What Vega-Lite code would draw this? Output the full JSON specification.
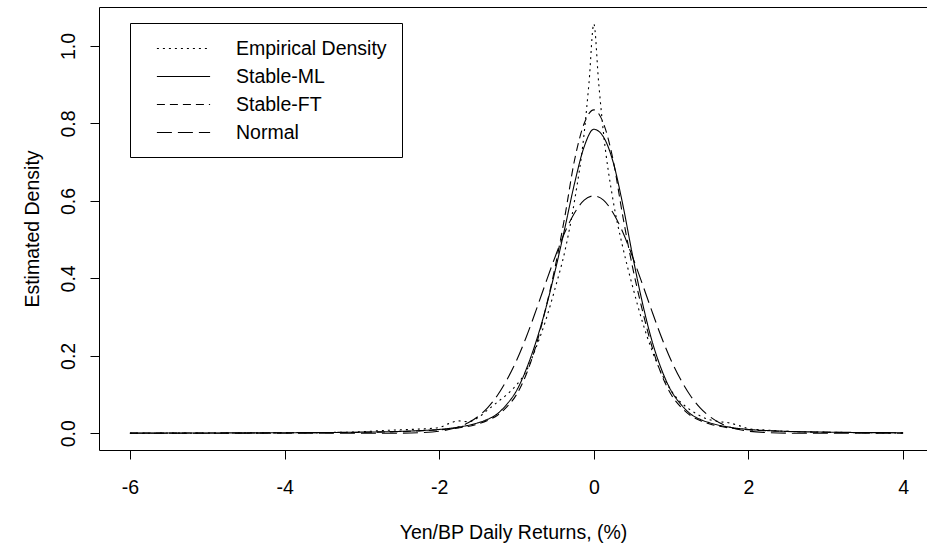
{
  "$schema": "https://vega.github.io/schema/vega-lite/v6.json",
  "autosize": "none",
  "padding": {"left": 99, "top": 7, "right": 0, "bottom": 99},
  "width": 828,
  "height": 443,
  "config": {
    "view": {"stroke": null},
    "font": "Liberation Sans",
    "axis": {"grid": false, "domainColor": "black", "tickColor": "black", "labelColor": "black", "titleColor": "black", "labelFont": "Liberation Sans", "titleFont": "Liberation Sans", "labelFontSize": 19.5, "titleFontSize": 19.5, "titleFontWeight": "normal", "tickSize": 9, "domainWidth": 1, "tickWidth": 1}
  },
  "data": {"values": [
    {"x": -6, "d": 0.0003, "s": "Empirical Density"},
    {"x": -5, "d": 0.0005, "s": "Empirical Density"},
    {"x": -4.5, "d": 0.001, "s": "Empirical Density"},
    {"x": -4, "d": 0.0015, "s": "Empirical Density"},
    {"x": -3.5, "d": 0.002, "s": "Empirical Density"},
    {"x": -3, "d": 0.004, "s": "Empirical Density"},
    {"x": -2.75, "d": 0.007, "s": "Empirical Density"},
    {"x": -2.5, "d": 0.009, "s": "Empirical Density"},
    {"x": -2.25, "d": 0.011, "s": "Empirical Density"},
    {"x": -2, "d": 0.015, "s": "Empirical Density"},
    {"x": -1.875, "d": 0.025, "s": "Empirical Density"},
    {"x": -1.75, "d": 0.032, "s": "Empirical Density"},
    {"x": -1.625, "d": 0.03, "s": "Empirical Density"},
    {"x": -1.5, "d": 0.04, "s": "Empirical Density"},
    {"x": -1.375, "d": 0.06, "s": "Empirical Density"},
    {"x": -1.25, "d": 0.08, "s": "Empirical Density"},
    {"x": -1.125, "d": 0.1, "s": "Empirical Density"},
    {"x": -1, "d": 0.125, "s": "Empirical Density"},
    {"x": -0.875, "d": 0.16, "s": "Empirical Density"},
    {"x": -0.75, "d": 0.22, "s": "Empirical Density"},
    {"x": -0.625, "d": 0.29, "s": "Empirical Density"},
    {"x": -0.5, "d": 0.375, "s": "Empirical Density"},
    {"x": -0.375, "d": 0.47, "s": "Empirical Density"},
    {"x": -0.25, "d": 0.6, "s": "Empirical Density"},
    {"x": -0.125, "d": 0.775, "s": "Empirical Density"},
    {"x": -0.0625, "d": 0.905, "s": "Empirical Density"},
    {"x": 0, "d": 1.057, "s": "Empirical Density"},
    {"x": 0.0625, "d": 0.905, "s": "Empirical Density"},
    {"x": 0.125, "d": 0.775, "s": "Empirical Density"},
    {"x": 0.25, "d": 0.6, "s": "Empirical Density"},
    {"x": 0.375, "d": 0.48, "s": "Empirical Density"},
    {"x": 0.5, "d": 0.38, "s": "Empirical Density"},
    {"x": 0.625, "d": 0.29, "s": "Empirical Density"},
    {"x": 0.75, "d": 0.215, "s": "Empirical Density"},
    {"x": 0.875, "d": 0.155, "s": "Empirical Density"},
    {"x": 1, "d": 0.11, "s": "Empirical Density"},
    {"x": 1.125, "d": 0.08, "s": "Empirical Density"},
    {"x": 1.25, "d": 0.06, "s": "Empirical Density"},
    {"x": 1.375, "d": 0.045, "s": "Empirical Density"},
    {"x": 1.5, "d": 0.035, "s": "Empirical Density"},
    {"x": 1.625, "d": 0.03, "s": "Empirical Density"},
    {"x": 1.75, "d": 0.027, "s": "Empirical Density"},
    {"x": 1.875, "d": 0.02, "s": "Empirical Density"},
    {"x": 2, "d": 0.012, "s": "Empirical Density"},
    {"x": 2.25, "d": 0.008, "s": "Empirical Density"},
    {"x": 2.5, "d": 0.005, "s": "Empirical Density"},
    {"x": 3, "d": 0.003, "s": "Empirical Density"},
    {"x": 3.5, "d": 0.0015, "s": "Empirical Density"},
    {"x": 4, "d": 0.0008, "s": "Empirical Density"},

    {"x": -6, "d": 0.0006, "s": "Stable-ML"},
    {"x": -5, "d": 0.0009, "s": "Stable-ML"},
    {"x": -4, "d": 0.0015, "s": "Stable-ML"},
    {"x": -3.5, "d": 0.002, "s": "Stable-ML"},
    {"x": -3, "d": 0.003, "s": "Stable-ML"},
    {"x": -2.5, "d": 0.005, "s": "Stable-ML"},
    {"x": -2.25, "d": 0.007, "s": "Stable-ML"},
    {"x": -2, "d": 0.01, "s": "Stable-ML"},
    {"x": -1.75, "d": 0.016, "s": "Stable-ML"},
    {"x": -1.5, "d": 0.027, "s": "Stable-ML"},
    {"x": -1.375, "d": 0.036, "s": "Stable-ML"},
    {"x": -1.25, "d": 0.05, "s": "Stable-ML"},
    {"x": -1.125, "d": 0.075, "s": "Stable-ML"},
    {"x": -1, "d": 0.11, "s": "Stable-ML"},
    {"x": -0.875, "d": 0.165, "s": "Stable-ML"},
    {"x": -0.75, "d": 0.235, "s": "Stable-ML"},
    {"x": -0.625, "d": 0.32, "s": "Stable-ML"},
    {"x": -0.5, "d": 0.42, "s": "Stable-ML"},
    {"x": -0.375, "d": 0.53, "s": "Stable-ML"},
    {"x": -0.25, "d": 0.645, "s": "Stable-ML"},
    {"x": -0.125, "d": 0.74, "s": "Stable-ML"},
    {"x": 0, "d": 0.785, "s": "Stable-ML"},
    {"x": 0.125, "d": 0.765, "s": "Stable-ML"},
    {"x": 0.25, "d": 0.7, "s": "Stable-ML"},
    {"x": 0.375, "d": 0.59, "s": "Stable-ML"},
    {"x": 0.5, "d": 0.46, "s": "Stable-ML"},
    {"x": 0.625, "d": 0.34, "s": "Stable-ML"},
    {"x": 0.75, "d": 0.24, "s": "Stable-ML"},
    {"x": 0.875, "d": 0.165, "s": "Stable-ML"},
    {"x": 1, "d": 0.11, "s": "Stable-ML"},
    {"x": 1.125, "d": 0.075, "s": "Stable-ML"},
    {"x": 1.25, "d": 0.05, "s": "Stable-ML"},
    {"x": 1.375, "d": 0.036, "s": "Stable-ML"},
    {"x": 1.5, "d": 0.027, "s": "Stable-ML"},
    {"x": 1.75, "d": 0.016, "s": "Stable-ML"},
    {"x": 2, "d": 0.01, "s": "Stable-ML"},
    {"x": 2.25, "d": 0.007, "s": "Stable-ML"},
    {"x": 2.5, "d": 0.005, "s": "Stable-ML"},
    {"x": 3, "d": 0.003, "s": "Stable-ML"},
    {"x": 3.5, "d": 0.002, "s": "Stable-ML"},
    {"x": 4, "d": 0.0015, "s": "Stable-ML"},

    {"x": -6, "d": 0.0004, "s": "Stable-FT"},
    {"x": -5, "d": 0.0007, "s": "Stable-FT"},
    {"x": -4, "d": 0.0012, "s": "Stable-FT"},
    {"x": -3.5, "d": 0.0017, "s": "Stable-FT"},
    {"x": -3, "d": 0.0026, "s": "Stable-FT"},
    {"x": -2.5, "d": 0.0045, "s": "Stable-FT"},
    {"x": -2.25, "d": 0.0062, "s": "Stable-FT"},
    {"x": -2, "d": 0.009, "s": "Stable-FT"},
    {"x": -1.75, "d": 0.014, "s": "Stable-FT"},
    {"x": -1.5, "d": 0.024, "s": "Stable-FT"},
    {"x": -1.375, "d": 0.033, "s": "Stable-FT"},
    {"x": -1.25, "d": 0.046, "s": "Stable-FT"},
    {"x": -1.125, "d": 0.068, "s": "Stable-FT"},
    {"x": -1, "d": 0.1, "s": "Stable-FT"},
    {"x": -0.875, "d": 0.152, "s": "Stable-FT"},
    {"x": -0.75, "d": 0.225, "s": "Stable-FT"},
    {"x": -0.625, "d": 0.32, "s": "Stable-FT"},
    {"x": -0.5, "d": 0.43, "s": "Stable-FT"},
    {"x": -0.375, "d": 0.56, "s": "Stable-FT"},
    {"x": -0.25, "d": 0.705, "s": "Stable-FT"},
    {"x": -0.125, "d": 0.8, "s": "Stable-FT"},
    {"x": 0, "d": 0.835, "s": "Stable-FT"},
    {"x": 0.125, "d": 0.8, "s": "Stable-FT"},
    {"x": 0.25, "d": 0.705, "s": "Stable-FT"},
    {"x": 0.375, "d": 0.56, "s": "Stable-FT"},
    {"x": 0.5, "d": 0.43, "s": "Stable-FT"},
    {"x": 0.625, "d": 0.32, "s": "Stable-FT"},
    {"x": 0.75, "d": 0.225, "s": "Stable-FT"},
    {"x": 0.875, "d": 0.152, "s": "Stable-FT"},
    {"x": 1, "d": 0.1, "s": "Stable-FT"},
    {"x": 1.125, "d": 0.068, "s": "Stable-FT"},
    {"x": 1.25, "d": 0.046, "s": "Stable-FT"},
    {"x": 1.375, "d": 0.033, "s": "Stable-FT"},
    {"x": 1.5, "d": 0.024, "s": "Stable-FT"},
    {"x": 1.75, "d": 0.014, "s": "Stable-FT"},
    {"x": 2, "d": 0.009, "s": "Stable-FT"},
    {"x": 2.25, "d": 0.0062, "s": "Stable-FT"},
    {"x": 2.5, "d": 0.0045, "s": "Stable-FT"},
    {"x": 3, "d": 0.0026, "s": "Stable-FT"},
    {"x": 3.5, "d": 0.0017, "s": "Stable-FT"},
    {"x": 4, "d": 0.0012, "s": "Stable-FT"},

    {"x": -6, "d": 0, "s": "Normal"},
    {"x": -4, "d": 0, "s": "Normal"},
    {"x": -3, "d": 0.00001, "s": "Normal"},
    {"x": -2.5, "d": 0.0004, "s": "Normal"},
    {"x": -2.25, "d": 0.0016, "s": "Normal"},
    {"x": -2, "d": 0.0055, "s": "Normal"},
    {"x": -1.875, "d": 0.0097, "s": "Normal"},
    {"x": -1.75, "d": 0.0165, "s": "Normal"},
    {"x": -1.625, "d": 0.0272, "s": "Normal"},
    {"x": -1.5, "d": 0.0431, "s": "Normal"},
    {"x": -1.375, "d": 0.0658, "s": "Normal"},
    {"x": -1.25, "d": 0.097, "s": "Normal"},
    {"x": -1.125, "d": 0.138, "s": "Normal"},
    {"x": -1, "d": 0.188, "s": "Normal"},
    {"x": -0.875, "d": 0.248, "s": "Normal"},
    {"x": -0.75, "d": 0.316, "s": "Normal"},
    {"x": -0.625, "d": 0.387, "s": "Normal"},
    {"x": -0.5, "d": 0.456, "s": "Normal"},
    {"x": -0.375, "d": 0.519, "s": "Normal"},
    {"x": -0.25, "d": 0.569, "s": "Normal"},
    {"x": -0.125, "d": 0.602, "s": "Normal"},
    {"x": 0, "d": 0.613, "s": "Normal"},
    {"x": 0.125, "d": 0.602, "s": "Normal"},
    {"x": 0.25, "d": 0.569, "s": "Normal"},
    {"x": 0.375, "d": 0.519, "s": "Normal"},
    {"x": 0.5, "d": 0.456, "s": "Normal"},
    {"x": 0.625, "d": 0.387, "s": "Normal"},
    {"x": 0.75, "d": 0.316, "s": "Normal"},
    {"x": 0.875, "d": 0.248, "s": "Normal"},
    {"x": 1, "d": 0.188, "s": "Normal"},
    {"x": 1.125, "d": 0.138, "s": "Normal"},
    {"x": 1.25, "d": 0.097, "s": "Normal"},
    {"x": 1.375, "d": 0.0658, "s": "Normal"},
    {"x": 1.5, "d": 0.0431, "s": "Normal"},
    {"x": 1.625, "d": 0.0272, "s": "Normal"},
    {"x": 1.75, "d": 0.0165, "s": "Normal"},
    {"x": 1.875, "d": 0.0097, "s": "Normal"},
    {"x": 2, "d": 0.0055, "s": "Normal"},
    {"x": 2.25, "d": 0.0016, "s": "Normal"},
    {"x": 2.5, "d": 0.0004, "s": "Normal"},
    {"x": 3, "d": 0.00001, "s": "Normal"},
    {"x": 4, "d": 0, "s": "Normal"}
  ]},
  "layer": [
    {
      "mark": {"type": "line", "color": "black", "strokeWidth": 1.1, "interpolate": "monotone"},
      "encoding": {
        "x": {"field": "x", "type": "quantitative", "scale": {"domain": [-6.4, 4.309], "nice": false, "zero": false},
              "axis": {"values": [-6, -4, -2, 0, 2, 4], "labelExpr": "replace(datum.label, '\u2212', '-')", "labelPadding": 19, "title": "Yen/BP Daily Returns, (%)", "titlePadding": 27, "orient": "bottom"}},
        "y": {"field": "d", "type": "quantitative", "scale": {"domain": [-0.0431, 1.1007], "nice": false, "zero": false},
              "axis": {"values": [0, 0.2, 0.4, 0.6, 0.8, 1.0], "format": ".1f", "labelAngle": -90, "labelAlign": "center", "labelBaseline": "bottom", "labelPadding": 12, "title": "Estimated Density", "titlePadding": 16}},
        "strokeDash": {"field": "s", "type": "nominal",
          "scale": {"domain": ["Empirical Density", "Stable-ML", "Stable-FT", "Normal"], "range": [[2, 4], [1, 0], [8, 5], [15, 6]]},
          "legend": {"orient": "none", "legendX": 31, "legendY": 16, "title": null, "strokeColor": "black", "padding": 15,
                     "symbolType": "M-2.8,0H2.8", "symbolSize": 361, "symbolStrokeWidth": 1.1, "symbolStrokeColor": "black",
                     "labelLimit": 400,
                     "labelExpr": "datum.label + '\u00a0\u00a0\u00a0\u00a0\u00a0\u00a0\u00a0\u00a0\u00a0\u00a0\u00a0\u00a0\u00a0\u00a0\u00a0\u00a0'",
                     "labelFont": "Liberation Sans", "labelFontSize": 19.5, "labelColor": "black", "labelOffset": 42, "rowPadding": 8, "symbolOffset": 28}},
        "detail": {"field": "s"}
      }
    },
    {
      "mark": {"type": "line", "strokeOpacity": 0},
      "encoding": {
        "x": {"field": "x", "type": "quantitative", "axis": {"orient": "top", "labels": false, "ticks": false, "title": null}},
        "y": {"field": "d", "type": "quantitative"},
        "detail": {"field": "s"}
      }
    }
  ],
  "resolve": {"axis": {"x": "independent"}}
}
